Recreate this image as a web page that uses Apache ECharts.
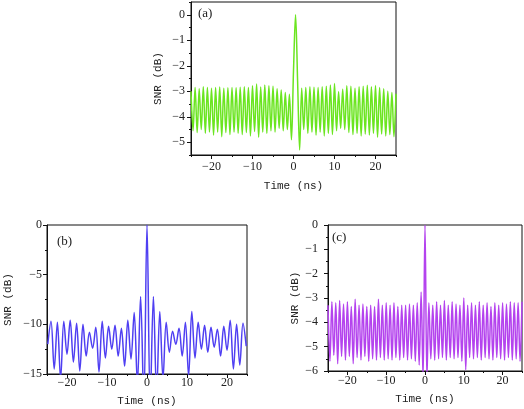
<!DOCTYPE html>
<html>
<head>
<meta charset="utf-8">
<script src="https://cdn.jsdelivr.net/npm/echarts@6/dist/echarts.min.js"></script>
<style>html,body{margin:0;padding:0;background:#fff}#main{width:524px;height:409px}</style>
</head>
<body>
<div id="main"></div>
<script>
// ---------- data ----------
// panel (a): samples every 0.5 ns from -25 ns
const startA = -25, stepA = 0.5;
const snrA = [
 -3.0,-4.55,-2.85,-4.62,-2.9,-4.5,-2.82,-4.65,-2.85,-4.6,
 -2.88,-4.72,-2.85,-4.6,-2.83,-4.78,-2.88,-4.62,-2.86,-4.7,
 -2.85,-4.6,-2.86,-4.65,-2.84,-4.7,-2.82,-4.62,-2.85,-4.75,
 -2.78,-4.58,-2.72,-4.8,-2.83,-4.6,-2.75,-4.65,-2.78,-4.55,
 -2.8,-4.6,-2.9,-4.45,-2.95,-4.55,-3.05,-4.5,-3.12,-4.9,
 -2.2,0,-2.6,-5.3,-2.88,-4.5,-2.85,-4.65,-2.82,-4.6,
 -2.84,-4.72,-2.85,-4.6,-2.82,-4.75,-2.8,-4.65,-2.75,-4.7,
 -2.7,-4.55,-3.02,-4.45,-2.92,-4.5,-2.78,-4.62,-2.8,-4.7,
 -2.88,-4.65,-2.82,-4.75,-2.8,-4.68,-2.76,-4.72,-2.82,-4.65,
 -2.77,-4.8,-2.85,-4.68,-2.9,-4.75,-3.0,-4.7,-3.05,-4.78,
 -3.1
];
// panel (b): samples every 0.8 ns from -24.8 ns
const startB = -24.8, stepB = 0.8;
const snrB = [
 -12.0,-9.7,-14.5,-9.8,-15.5,-9.7,-13.0,-9.6,-13.8,-9.9,
 -14.7,-10.0,-13.2,-10.8,-12.4,-10.3,-14.8,-9.7,-13.4,-10.2,
 -12.5,-10.1,-13.2,-10.4,-14.2,-9.6,-13.5,-8.8,-16,-7.2,
 -18,0,-18,-7.2,-17,-8.7,-15.5,-9.8,-12.8,-10.7,
 -12.0,-10.4,-13.2,-9.8,-15.2,-8.7,-13.4,-9.8,-12.5,-10.1,
 -12.8,-10.3,-12.3,-10.5,-13.2,-10.2,-12.6,-9.6,-14.5,-10.0,
 -14.1,-9.9,-12.2
];
// panel (c): samples every 0.5 ns from -25 ns
const startC = -25, stepC = 0.5;
const snrC = [
 -3.3,-5.6,-3.15,-5.35,-3.2,-5.7,-3.1,-5.4,-3.25,-5.55,
 -3.15,-5.4,-3.35,-5.7,-3.05,-5.45,-3.3,-5.55,-3.25,-5.4,
 -3.35,-5.6,-3.3,-5.5,-3.35,-5.55,-3.05,-5.45,-3.3,-5.55,
 -3.2,-5.5,-3.3,-5.55,-3.2,-5.45,-3.35,-5.55,-3.3,-5.45,
 -3.3,-5.55,-3.25,-5.5,-3.3,-5.6,-3.2,-5.75,-2.75,-6.3,
 0,-6.3,-3.2,-5.5,-3.3,-5.55,-3.15,-5.5,-3.3,-5.45,
 -3.1,-5.55,-3.3,-5.45,-3.15,-5.5,-3.25,-5.45,-3.3,-5.6,
 -3.0,-5.95,-3.3,-5.45,-3.2,-5.5,-3.3,-5.45,-3.15,-5.55,
 -3.3,-5.45,-3.2,-5.5,-3.35,-5.55,-3.2,-5.45,-3.3,-5.5,
 -3.2,-5.55,-3.25,-5.45,-3.15,-5.55,-3.2,-5.5,-3.2,-5.6,
 -3.15
];
const xTicks = [-20, -10, 0, 10, 20];
const xMinor = [-25, -15, -5, 5, 15, 25];
const yTicksA = [0, -1, -2, -3, -4, -5];
const yMinorA = [0.5, -0.5, -1.5, -2.5, -3.5, -4.5, -5.5];
const yTicksB = [0, -5, -10, -15];
const yMinorB = [-2.5, -7.5, -12.5];
const yTicksC = [0, -1, -2, -3, -4, -5, -6];
const yMinorC = [-0.5, -1.5, -2.5, -3.5, -4.5, -5.5];
const panelLabels = ['(a)', '(b)', '(c)'];
const xName = 'Time (ns)';
const yName = 'SNR (dB)';
const colors = ['#6BE520', '#4F3FF2', '#B443EE'];

function toPairs(start, step, arr) {
  return arr.map((v, i) => [+(start + step * i).toFixed(3), v]);
}

// ---------- layout ----------
const grids = [
  {left: 191, top: 2, width: 205, height: 153},
  {left: 47, top: 225, width: 200, height: 149},
  {left: 328, top: 225, width: 194, height: 146}
];
const yRanges = [[-5.5, 0.5], [-15, 0], [-6, 0]];
const yTicks = [yTicksA, yTicksB, yTicksC];
const yMinors = [yMinorA, yMinorB, yMinorC];
const yLabelMargin = [6, 5, 10];
const yNameGap = [27, 33, 27];
const xLabelMargin = [6, 3, 4];
const xNameGap = [26, 22, 23];
const fmt = v => (v < 0 ? '\u2212' + Math.abs(v) : String(v));
const tickFont = {fontFamily: 'Liberation Serif', fontSize: 12, color: '#222'};
const nameFont = {fontFamily: 'Liberation Mono', fontSize: 11, color: '#222'};
const lineStyle = {color: '#111', width: 1};

const xAxes = [], yAxes = [], series = [];
grids.forEach((g, i) => {
  xAxes.push({
    type: 'value', gridIndex: i, min: -25, max: 25, interval: 5, position: 'bottom',
    axisLine: {show: true, onZero: false, lineStyle}, splitLine: {show: false},
    axisTick: {show: true, length: 4, lineStyle, customValues: xTicks},
    axisLabel: {...tickFont, margin: xLabelMargin[i], customValues: xTicks, formatter: fmt},
    name: xName, nameLocation: 'middle', nameGap: xNameGap[i], nameTextStyle: nameFont
  });
  xAxes.push({
    type: 'value', gridIndex: i, min: -25, max: 25, position: 'bottom',
    axisLine: {show: false, onZero: false}, splitLine: {show: false}, axisLabel: {show: false},
    axisTick: {show: true, length: 2, lineStyle, customValues: xMinor}
  });
  yAxes.push({
    type: 'value', gridIndex: i, min: yRanges[i][0], max: yRanges[i][1], position: 'left',
    axisLine: {show: true, onZero: false, lineStyle}, splitLine: {show: false},
    axisTick: {show: true, length: 4, lineStyle, customValues: yTicks[i]},
    axisLabel: {...tickFont, margin: yLabelMargin[i], customValues: yTicks[i], formatter: fmt},
    name: yName, nameLocation: 'middle', nameGap: yNameGap[i], nameRotate: 90, nameTextStyle: nameFont
  });
  yAxes.push({
    type: 'value', gridIndex: i, min: yRanges[i][0], max: yRanges[i][1], position: 'left',
    axisLine: {show: false, onZero: false}, splitLine: {show: false}, axisLabel: {show: false},
    axisTick: {show: true, length: 2, lineStyle, customValues: yMinors[i]}
  });
});

const datasets = [toPairs(startA, stepA, snrA), toPairs(startB, stepB, snrB), toPairs(startC, stepC, snrC)];
datasets.forEach((d, i) => {
  series.push({
    type: 'line', xAxisIndex: i * 2, yAxisIndex: i * 2, data: d,
    showSymbol: false, smooth: 0.35, clip: true,
    lineStyle: {color: colors[i], width: 1.5}, silent: true
  });
});

const labelPos = [[198, 7], [57, 235], [332, 231]];
const chart = echarts.init(document.getElementById('main'), null, {renderer: 'canvas'});
chart.setOption({
  animation: false,
  backgroundColor: '#fff',
  grid: grids.map(g => ({...g, show: true, borderColor: '#111', borderWidth: 1, backgroundColor: 'transparent'})),
  xAxis: xAxes,
  yAxis: yAxes,
  series,
  graphic: panelLabels.map((t, i) => ({
    type: 'text', left: labelPos[i][0], top: labelPos[i][1],
    style: {text: t, fontFamily: 'Liberation Serif', fontSize: 13, fill: '#222'}
  }))
});
</script>
</body>
</html>
